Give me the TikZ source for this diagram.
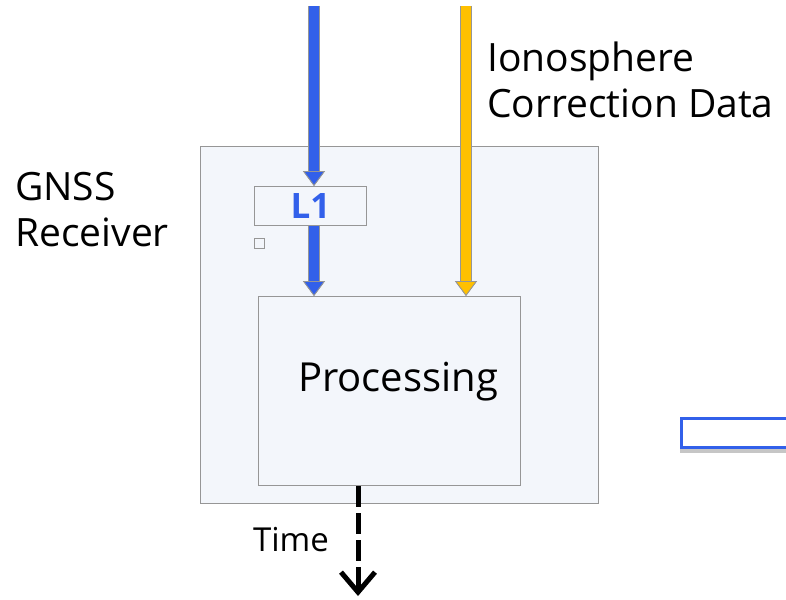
\documentclass[tikz,border=0pt]{standalone}
\usepackage{fontspec}
\setmainfont{Open Sans}
\usetikzlibrary{arrows.meta,shadows}

\definecolor{sigblue}{RGB}{50,96,234}
\definecolor{corryellow}{RGB}{255,192,0}
\definecolor{panelfill}{RGB}{243,246,251}
\definecolor{edgegray}{RGB}{150,150,150}

\tikzset{
    panel/.style={draw=edgegray, fill=panelfill, line width=1pt, inner sep=0pt},
    signal/.style={line width=10pt, preaction={draw=edgegray, line width=12pt},
        -{Triangle[width=22pt,length=15pt,color=edgegray,fill=#1,line width=0.8pt]}},
    lbl/.style={font=\fontsize{39}{46}\selectfont, align=left, inner sep=0pt}
}

\begin{document}
\begin{tikzpicture}[x=1pt,y=-1pt]
    \useasboundingbox (0,0) rectangle (786,599);

    % receiver box and inner blocks
    \node[panel, anchor=north west, minimum width=398pt, minimum height=357pt] (receiver) at (200,146) {};
    \node[panel, anchor=north west, minimum width=112pt, minimum height=39pt,
          font=\fontsize{35}{35}\selectfont\bfseries, text=sigblue] (lone) at (254,186) {L1};
    \node[panel, anchor=north west, minimum size=10pt] (tick) at (254,238) {};
    \node[panel, anchor=north west, minimum width=262pt, minimum height=189pt] (proc) at (258,296) {};
    \node[lbl, font=\fontsize{40}{40}\selectfont] (proctext) at (398,382) {Processing};

    % incoming signals
    \coordinate (bluetop) at (314,6);
    \coordinate (yellowtop) at (466,6);
    \draw [signal=sigblue, sigblue] (bluetop) -- (bluetop |- lone.north);
    \draw [signal=sigblue, sigblue] (lone.south -| bluetop) -- (proc.north -| bluetop);
    \draw [signal=corryellow, corryellow] (yellowtop) -- (yellowtop |- proc.north);

    % output
    \coordinate (timeend) at (358,596);
    \draw [line width=5pt, dash pattern=on 21pt off 6pt, -{Straight Barb[length=20pt,width=34pt]}]
        (proc.south -| timeend) -- (timeend);

    \node[lbl, anchor=west] (iono) at (487,80) {Ionosphere\\Correction Data};
    \node[lbl, anchor=west] (gnss) at (15,210) {GNSS\\Receiver};
    \node[lbl, font=\fontsize{33}{33}\selectfont] (timelbl) at (291,540) {Time};

    % partly shown box on the right
    \node[draw=sigblue, line width=3pt, fill=white,
          drop shadow={opacity=0.45, shadow xshift=-2pt, shadow yshift=-5pt},
          anchor=north west, minimum width=120pt, minimum height=29pt] (nextbox) at (680,417) {};
\end{tikzpicture}
\end{document}
